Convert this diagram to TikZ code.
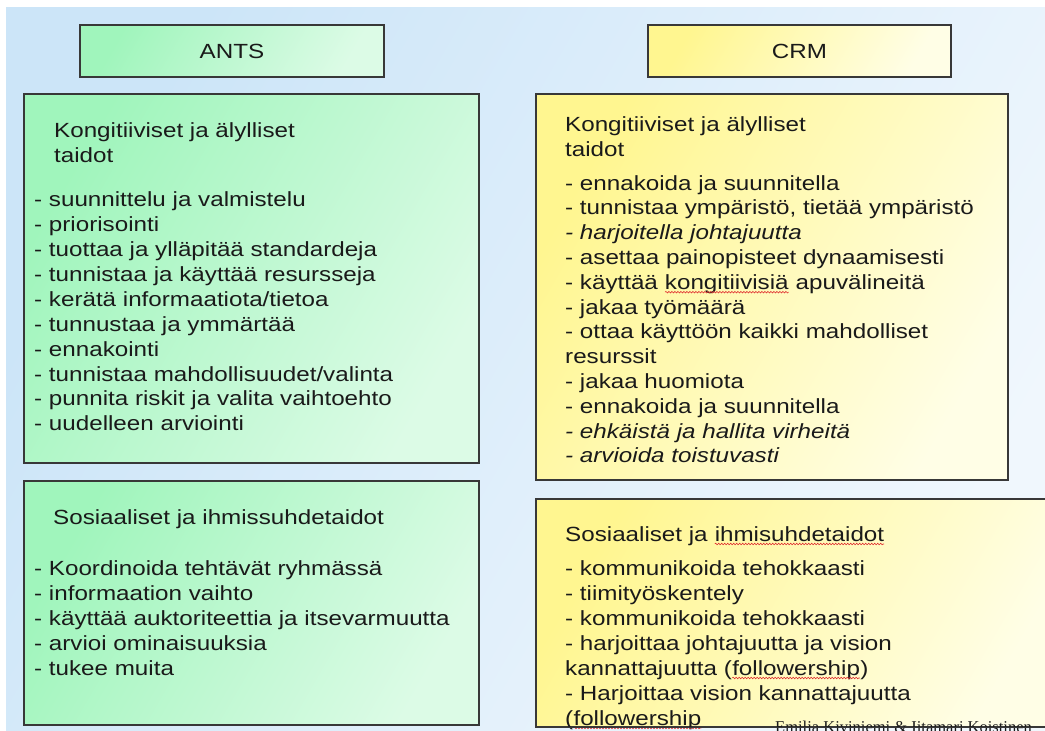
\documentclass[tikz,border=0pt]{standalone}
\usepackage{fontspec}
\setmainfont{Liberation Sans}[FakeStretch=1.18]
\newfontfamily\creditfont{Liberation Serif}
\usetikzlibrary{decorations.pathmorphing}

\definecolor{bgblue}{HTML}{CCE5F8}
\definecolor{bgpale}{HTML}{F0F7FD}
\definecolor{antsgreen}{HTML}{A0F5BC}
\definecolor{antspale}{HTML}{DCFBE6}
\definecolor{crmyellow}{HTML}{FFF690}
\definecolor{crmpale}{HTML}{FFFEE6}
\definecolor{edge}{HTML}{383838}
\definecolor{ink}{HTML}{1A1A1A}
\definecolor{spellred}{HTML}{E03030}

% red wavy underline of the spell checker
\newcommand\wavyword[1]{%
  \tikz[baseline=(ww.base)]{%
    \node[inner sep=0pt, outer sep=0pt] (ww) {#1};
    \draw[spellred, line width=0.6pt, decorate,
      decoration={snake, amplitude=0.8pt, segment length=3pt}]
      ([yshift=-3pt]ww.base west) -- ([yshift=-3pt]ww.base east);}}

\begin{document}
\begin{tikzpicture}[x=1pt, y=-1pt,
    txt/.style={anchor=base west, inner sep=0pt, text=ink,
      font=\fontsize{20.5}{24.9}\selectfont},
    antsbox/.style={draw=edge, line width=1.4pt,
      left color=antsgreen, right color=antspale, shading angle=60,
      text=ink, font=\fontsize{20.5}{24.9}\selectfont},
    crmbox/.style={draw=edge, line width=1.4pt,
      left color=crmyellow, right color=crmpale, shading angle=60,
      text=ink, font=\fontsize{20.5}{24.9}\selectfont}
  ]
  \useasboundingbox (0,0) rectangle (1045,731);
  \shade[left color=bgblue, right color=bgpale, shading angle=60]
    (6,7) rectangle (1045,731);

  % column heads
  \node[antsbox, minimum width=304pt, minimum height=52pt] (antsHead) at (232,51) {ANTS};
  \node[crmbox, minimum width=303pt, minimum height=52pt] (crmHead) at (799.5,51) {CRM};

  % boxes
  \node[antsbox, minimum width=455pt, minimum height=369pt] (antsKog) at (251.5,278.5) {};
  \node[crmbox, minimum width=472pt, minimum height=386pt] (crmKog) at (772,287) {};
  \node[antsbox, minimum width=455pt, minimum height=244pt] (antsSos) at (251.5,603) {};
  \node[crmbox, minimum width=525pt, minimum height=228pt] (crmSos) at (798.5,613) {};

  % ANTS, cognitive
  \node[txt] (antsKogHead) at (54,137.7) {Kongitiiviset ja älylliset};
  \node[txt] (antsKogHead2) at (54,162.6) {taidot};
  \foreach \t [count=\i from 0] in {
      - suunnittelu ja valmistelu,
      - priorisointi,
      - tuottaa ja ylläpitää standardeja,
      - tunnistaa ja käyttää resursseja,
      - kerätä informaatiota/tietoa,
      - tunnustaa ja ymmärtää,
      - ennakointi,
      - tunnistaa mahdollisuudet/valinta,
      - punnita riskit ja valita vaihtoehto,
      - uudelleen arviointi}
    \node[txt] (antsKog\i) at (34,206.7+24.9*\i) {\t};

  % CRM, cognitive
  \node[txt] (crmKogHead) at (565,131.7) {Kongitiiviset ja älylliset};
  \node[txt] (crmKogHead2) at (565,156.5) {taidot};
  \foreach \t [count=\i from 0] in {
      - ennakoida ja suunnitella,
      {- tunnistaa ympäristö, tietää ympäristö},
      {\itshape - harjoitella johtajuutta},
      - asettaa painopisteet dynaamisesti,
      - käyttää \wavyword{kongitiivisiä} apuvälineitä,
      - jakaa työmäärä,
      - ottaa käyttöön kaikki mahdolliset,
      resurssit,
      - jakaa huomiota,
      - ennakoida ja suunnitella,
      {\itshape - ehkäistä ja hallita virheitä},
      {\itshape - arvioida toistuvasti}}
    \node[txt] (crmKog\i) at (565,190+24.8*\i) {\t};

  % ANTS, social
  \node[txt] (antsSosHead) at (53,524.3) {Sosiaaliset ja ihmissuhdetaidot};
  \foreach \t [count=\i from 0] in {
      - Koordinoida tehtävät ryhmässä,
      - informaation vaihto,
      - käyttää auktoriteettia ja itsevarmuutta,
      - arvioi ominaisuuksia,
      - tukee muita}
    \node[txt] (antsSos\i) at (34,575+25*\i) {\t};

  % CRM, social
  \node[txt] (crmSosHead) at (565,541) {Sosiaaliset ja \wavyword{ihmisuhdetaidot}};
  \foreach \t [count=\i from 0] in {
      - kommunikoida tehokkaasti,
      - tiimityöskentely,
      - kommunikoida tehokkaasti,
      - harjoittaa johtajuutta ja vision,
      {kannattajuutta (\wavyword{followership})},
      - Harjoittaa vision kannattajuutta,
      {(\wavyword{followership}}}
    \node[txt] (crmSos\i) at (565,575+25*\i) {\t};

  \node[anchor=base west, inner sep=0pt, text=ink,
    font=\creditfont\fontsize{16.5}{16.5}\selectfont] (credit) at (775,732)
    {Emilia Kiviniemi \& Iitamari Koistinen};
  \draw[edge, line width=1.4pt] (crmSos.south west) -- (crmSos.south east);
\end{tikzpicture}
\end{document}
